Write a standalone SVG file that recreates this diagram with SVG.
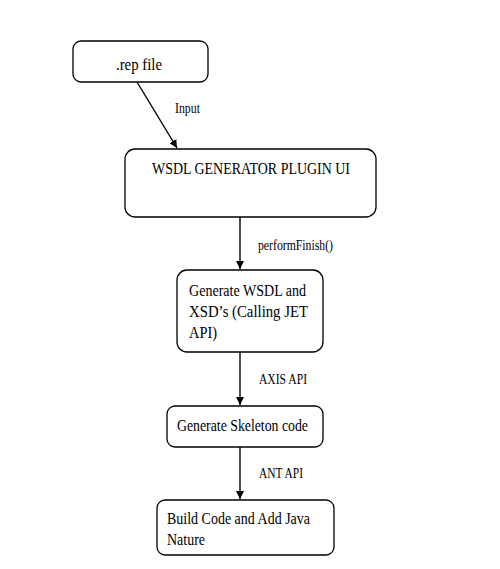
<svg xmlns="http://www.w3.org/2000/svg" width="500" height="569" viewBox="0 0 500 569">
<style>
.box{fill:#fff;stroke:#000;stroke-width:1.3}
.t{font-family:"Liberation Serif",serif;font-size:17.5px;fill:#000}
.l{font-family:"Liberation Serif",serif;font-size:14px;fill:#000}
.c{stroke:#000;stroke-width:1.4;fill:none;marker-end:url(#ah)}
</style>
<defs>
<marker id="ah" viewBox="0 0 10 10" refX="10" refY="5" markerWidth="8" markerHeight="8" markerUnits="userSpaceOnUse" orient="auto">
<path d="M0,0 L10,5 L0,10 z" fill="#000"/>
</marker>
</defs>
<rect width="500" height="569" fill="#fff"/>
<g id="connectors">
<line class="c" x1="137" y1="82" x2="177" y2="148"/>
<line class="c" x1="240" y1="217" x2="240" y2="269"/>
<line class="c" x1="240" y1="352" x2="240" y2="405"/>
<line class="c" x1="240" y1="447" x2="240" y2="499"/>
<text class="l" x="175" y="113" textLength="25" lengthAdjust="spacingAndGlyphs">Input</text>
<text class="l" x="258" y="250" textLength="75" lengthAdjust="spacingAndGlyphs">performFinish()</text>
<text class="l" x="259" y="384" textLength="48" lengthAdjust="spacingAndGlyphs">AXIS API</text>
<text class="l" x="259" y="478" textLength="44" lengthAdjust="spacingAndGlyphs">ANT API</text>
</g>
<g id="rep">
<rect class="box" x="73" y="41" width="135" height="41" rx="8"/>
<text class="t" x="116" y="70" textLength="46" lengthAdjust="spacingAndGlyphs">.rep file</text>
</g>
<g id="plugin">
<rect class="box" x="125" y="149" width="251" height="68" rx="10"/>
<text class="t" x="152" y="174" textLength="198" lengthAdjust="spacingAndGlyphs">WSDL GENERATOR PLUGIN UI</text>
</g>
<g id="genwsdl">
<rect class="box" x="177" y="270" width="146" height="82" rx="10"/>
<text class="t" x="189" y="296" textLength="117" lengthAdjust="spacingAndGlyphs">Generate WSDL and</text>
<text class="t" x="189" y="317" textLength="119" lengthAdjust="spacingAndGlyphs">XSD’s (Calling JET</text>
<text class="t" x="189" y="338" textLength="28" lengthAdjust="spacingAndGlyphs">API)</text>
</g>
<g id="skeleton">
<rect class="box" x="167" y="406" width="156" height="41" rx="8"/>
<text class="t" x="177" y="431" textLength="131" lengthAdjust="spacingAndGlyphs">Generate Skeleton code</text>
</g>
<g id="build">
<rect class="box" x="157" y="500" width="177" height="55" rx="8"/>
<text class="t" x="167" y="524" textLength="143" lengthAdjust="spacingAndGlyphs">Build Code and Add Java</text>
<text class="t" x="167" y="545" textLength="38" lengthAdjust="spacingAndGlyphs">Nature</text>
</g>
</svg>
